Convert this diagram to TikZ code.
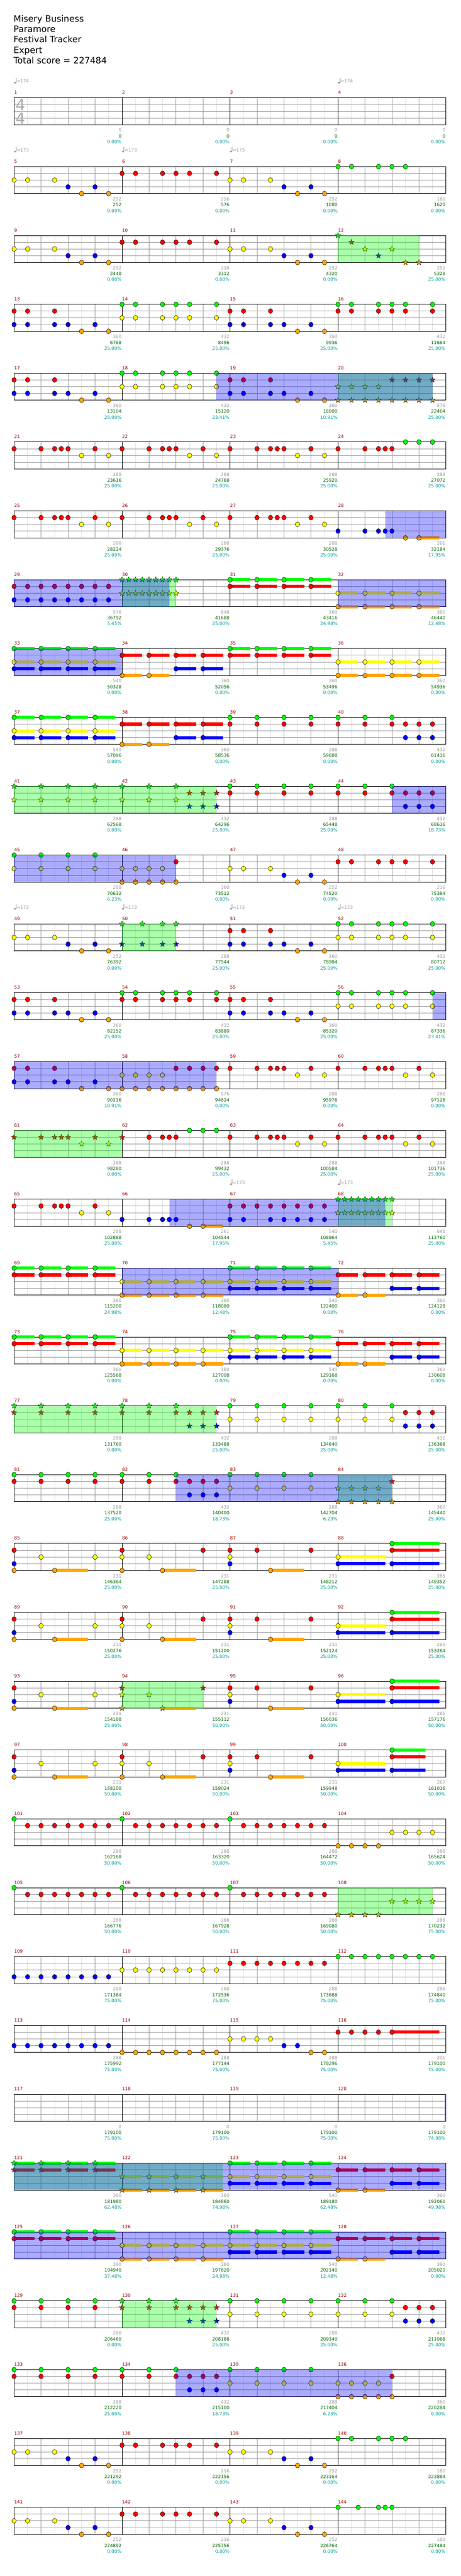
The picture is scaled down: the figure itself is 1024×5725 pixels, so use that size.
\documentclass[tikz,border=0pt]{standalone}
\usepackage{fontspec}
\setmainfont{DejaVu Sans}
\usetikzlibrary{shapes.geometric}
\definecolor{cg}{RGB}{0,255,0}
\definecolor{cr}{RGB}{255,0,0}
\definecolor{cy}{RGB}{255,255,0}
\definecolor{cb}{RGB}{0,0,255}
\definecolor{co}{RGB}{255,165,0}
\definecolor{gridd}{RGB}{153,153,153}
\definecolor{gridl}{RGB}{221,221,221}
\definecolor{mnum}{RGB}{153,0,0}
\definecolor{lgrey}{RGB}{153,153,153}
\definecolor{lgreen}{RGB}{0,102,0}
\definecolor{lteal}{RGB}{0,153,153}
\definecolor{tsig}{RGB}{170,170,170}
\def\lng{0}\def\lnr{1}\def\lny{2}\def\lnb{3}\def\lno{4}
\newcommand\mpos[1]{%
  \pgfmathtruncatemacro\mrow{floor((#1-1)/4)}%
  \pgfmathtruncatemacro\mcol{#1-1-4*\mrow}%
  \pgfmathsetmacro\mx{31.3+240*\mcol}%
  \pgfmathsetmacro\my{217.3+153*\mrow}}
\newcommand\gNt[3]{\mpos{#1}\edef\laneY{\csname ln#2\endcsname}%
  \foreach \p in {#3}{\draw[notestyle,fill=c#2] (\mx+30*\p,\my+15*\laneY) ellipse [x radius=5, y radius=5.4];}}
\newcommand\gSu[4]{\mpos{#1}\edef\laneY{\csname ln#2\endcsname}%
  \foreach \p in {#3}{\fill[c#2] (\mx+30*\p,\my+15*\laneY-3.5) rectangle (\mx+30*\p+30*#4,\my+15*\laneY+3.5);
  \draw[notestyle,fill=c#2] (\mx+30*\p,\my+15*\laneY) ellipse [x radius=5, y radius=5.4];}}
\newcommand\gSt[3]{\mpos{#1}\edef\laneY{\csname ln#2\endcsname}%
  \foreach \p in {#3}{\node[starstyle,fill=c#2] at (\mx+30*\p,\my+15*\laneY) {};}}
\newcommand\gSS[4]{\mpos{#1}\edef\laneY{\csname ln#2\endcsname}%
  \foreach \p in {#3}{\fill[c#2] (\mx+30*\p,\my+15*\laneY-3.5) rectangle (\mx+30*\p+30*#4,\my+15*\laneY+3.5);
  \node[starstyle,fill=c#2] at (\mx+30*\p,\my+15*\laneY) {};}}
\newcommand\ovr[4]{\mpos{#2}\fill[#1,fill opacity=0.33] (\mx+30*#3,\my) rectangle (\mx+30*#4,\my+60);}
\newcommand\tempo[2]{\mpos{#1}%
  \fill[lgrey] (\mx+2.2,\my-33.5) ellipse [x radius=2.4, y radius=1.8];
  \draw[lgrey,line width=0.8pt] (\mx+4.3,\my-33.5) -- (\mx+4.3,\my-44);
  \node[anchor=base west,inner sep=0pt,text=lgrey,font=\fontsize{10}{12}\selectfont] at (\mx+5.5,\my-33) {=#2};}
% patterns
\newcommand\patA[1]{\gNt{#1}{y}{0,1,3}\gNt{#1}{b}{4,6}\gNt{#1}{o}{5,7}}
\newcommand\patB[1]{\gNt{#1}{r}{0,1,3,4,5,7}}
\newcommand\patD[1]{\gNt{#1}{r}{0,1,3}\gNt{#1}{b}{0,1,3,4,6}\gNt{#1}{o}{5,7}}
\newcommand\patE[1]{\gNt{#1}{g}{0,1,3,4,5,7}\gNt{#1}{y}{0,1,3,4,5,7}}
\newcommand\patF[1]{\gNt{#1}{g}{0,1,3,4,5,7}\gNt{#1}{r}{0,1,3,4,5,7}}
\newcommand\patG[1]{\gNt{#1}{r}{0,2,3,3.5,4,6}\gNt{#1}{y}{5,7}}
\newcommand\patH[1]{\gNt{#1}{r}{0}\gNt{#1}{b}{0}\gNt{#1}{o}{0}\gNt{#1}{y}{2,6}\gSu{#1}{o}{3}{2.5}}
\newcommand\patI[1]{\gNt{#1}{r}{0,6}\gNt{#1}{y}{0,2}\gNt{#1}{o}{0}\gSu{#1}{o}{3}{2.5}}
\newcommand\patJ[1]{\gNt{#1}{r}{0,2,6}\gNt{#1}{y}{0}\gNt{#1}{b}{0}\gSu{#1}{o}{3}{2.5}}
\newcommand\patK[1]{\gSu{#1}{y}{0}{3.5}\gSu{#1}{b}{0}{3.5}\gSu{#1}{g}{4}{3.5}\gSu{#1}{r}{4}{3.5}\gSu{#1}{b}{4}{3.5}}
\newcommand\patL[1]{\gNt{#1}{g}{0,2,4,6}\gNt{#1}{r}{0,2,4,6}}
\newcommand\patM[1]{\gNt{#1}{g}{0,2,4}\gNt{#1}{r}{0,2,4,5,6,7}\gNt{#1}{b}{5,6,7}}
\newcommand\patO[1]{\gNt{#1}{g}{0,2,4,6}\gNt{#1}{y}{0,2,4,6}}
\newcommand\patP[1]{\gNt{#1}{g}{0,2,4}\gNt{#1}{y}{0,2,4}\gNt{#1}{r}{5,6,7}\gNt{#1}{b}{5,6,7}}
\newcommand\patQ[1]{\gNt{#1}{y}{0,1,2,3}\gNt{#1}{o}{0,1,2,3,4}\gNt{#1}{r}{4}}
\newcommand\patR[1]{\gNt{#1}{g}{0}\gNt{#1}{r}{1,...,7}}
\newcommand\patSGR[1]{\gSu{#1}{g}{0,2,4,6}{1.5}\gSu{#1}{r}{0,2,4,6}{1.5}}
\newcommand\patSYO[1]{\gSu{#1}{y}{0,2,4,6}{1.5}\gSu{#1}{o}{0,2,4,6}{1.5}}
\newcommand\patSGYB[1]{\gSu{#1}{g}{0,2,4,6}{1.5}\gSu{#1}{y}{0,2,4,6}{1.5}\gSu{#1}{b}{0,2,4,6}{1.5}}
\newcommand\patSR[1]{\gSu{#1}{r}{0,2,4,6}{1.5}\gSu{#1}{b}{4,6}{1.5}\gSu{#1}{o}{0,2}{1.5}}
\begin{document}
\begin{tikzpicture}[x=1pt,y=-1pt,
  notestyle/.style={draw=black,line width=0.6pt},
  starstyle/.style={star,star points=5,star point ratio=2.4,minimum size=13pt,inner sep=0pt,draw=black,line width=0.5pt},
  lab/.style={anchor=base east,inner sep=0pt,font=\fontsize{10}{12}\selectfont},
  mnumst/.style={anchor=base west,inner sep=0pt,text=mnum,font=\fontsize{10}{12}\selectfont},
  titl/.style={anchor=base west,inner sep=0pt,font=\fontsize{19.5}{23}\selectfont}]
\useasboundingbox (0,0) rectangle (1024,5725);
\fill[white] (0,0) rectangle (1024,5725);
% title
\node[titl] (t1) at (30,49) {Misery Business};
\node[titl] (t2) at (30,72) {Paramore};
\node[titl] (t3) at (30,95) {Festival Tracker};
\node[titl] (t4) at (30,118) {Expert};
\node[titl] (t5) at (30,141.5) {Total score = 227484};
% staves
\foreach \r in {0,...,35}{
  \pgfmathsetmacro\yy{217.3+153*\r}
  \foreach \k in {1,3,...,31} \draw[gridl,line width=0.8pt] (31.3+30*\k,\yy) -- ++(0,60);
  \foreach \k in {2,4,6,10,12,14,18,20,22,26,28,30} \draw[gridd,line width=0.8pt] (31.3+30*\k,\yy) -- ++(0,60);
  \foreach \j in {1,2,3} \draw[gridd,line width=1pt] (31.3,\yy+15*\j) -- (991.3,\yy+15*\j);
  \foreach \k in {8,16,24} \draw[black,line width=0.9pt] (31.3+30*\k,\yy) -- ++(0,60);
  \draw[black,line width=1pt] (31.3,\yy) rectangle (991.3,\yy+60);
}
% time signature
\node[anchor=base west,inner sep=0pt,text=tsig,font=\fontsize{34}{34}\selectfont] (ts1) at (34.5,245.3) {4};
\node[anchor=base west,inner sep=0pt,text=tsig,font=\fontsize{34}{34}\selectfont] (ts2) at (34.5,275.3) {4};
% tempo marks
\tempo{1}{174}\tempo{4}{174}
\tempo{5}{173}\tempo{6}{173}\tempo{7}{173}
\tempo{49}{173}\tempo{50}{173}\tempo{51}{173}\tempo{52}{173}
\tempo{67}{173}\tempo{68}{173}
% measure numbers
\foreach \m in {1,...,144}{\mpos{\m}\node[mnumst] at (\mx,\my-8) {\m};}
% notes
\patA{5}\patB{6}\patA{7}\gNt{8}{g}{0,1,3,4,5}
\patA{9}\patB{10}\patA{11}
\gSt{12}{g}{0}\gSt{12}{r}{1}\gSt{12}{y}{2,4}\gSt{12}{b}{3}\gSt{12}{o}{5,6}
\patD{13}\patE{14}\patD{15}\patF{16}
\patD{17}\patE{18}\patD{19}\gSt{20}{y}{0,1,2,3}\gSt{20}{r}{4,5,6,7}\gSt{20}{o}{0,...,7}
\patG{21}\patG{22}\patG{23}\gNt{24}{r}{0,2,3,3.5,4}\gNt{24}{g}{5,6,7}
\patG{25}\patG{26}\patG{27}\gNt{28}{b}{0,2,3,3.5,4}\gNt{28}{o}{5}\gSu{28}{o}{6}{1.5}
\gNt{29}{r}{0,...,7}\gNt{29}{b}{0,...,7}
\gSt{30}{g}{0,0.5,...,4}\gSt{30}{y}{0,0.5,...,4}
\patSGR{31}\patSYO{32}
\patSGYB{33}\patSR{34}\patSGR{35}\patSYO{36}
\patSGYB{37}\patSR{38}\patL{39}\patM{40}
\gSt{41}{g}{0,2,4,6}\gSt{41}{y}{0,2,4,6}
\gSt{42}{g}{0,2,4}\gSt{42}{y}{0,2,4}\gSt{42}{r}{5,6,7}\gSt{42}{b}{5,6,7}
\patL{43}\patM{44}
\patO{45}\patQ{46}\patA{47}\patB{48}
\patA{49}\gSt{50}{g}{0,1.5,3,4}\gSt{50}{b}{0,1.5,3,4}\patD{51}\patE{52}
\patD{53}\patF{54}\patD{55}\patE{56}
\patD{57}\gNt{58}{y}{0,1,2,3}\gNt{58}{o}{0,...,7}\gNt{58}{r}{4,5,6,7}\patG{59}\patG{60}
\gSt{61}{r}{0,2,3,3.5,4,6}\gSt{61}{y}{5,7}
\gSt{62}{r}{0}\gNt{62}{r}{2,3,3.5,4}\gNt{62}{g}{5,6,7}\patG{63}\patG{64}
\patG{65}\gNt{66}{b}{0,2,3,3.5,4}\gNt{66}{o}{5}\gSu{66}{o}{6}{1.5}
\gNt{67}{r}{0,...,7}\gNt{67}{b}{0,1,3,4,5,6,7}
\gSt{68}{g}{0,0.5,...,4}\gSt{68}{y}{0,0.5,...,4}
\patSGR{69}\patSYO{70}\patSGYB{71}\patSR{72}
\patSGR{73}\patSYO{74}\patSGYB{75}\patSR{76}
\gSt{77}{g}{0,2,4,6}\gSt{77}{r}{0,2,4,6}
\gSt{78}{g}{0,2,4}\gSt{78}{r}{0,2,4,5,6,7}\gSt{78}{b}{5,6,7}
\patO{79}\patP{80}
\patL{81}\patM{82}\patO{83}
\gSt{84}{y}{0,1,2,3}\gSt{84}{o}{0,1,2,3,4}\gSt{84}{r}{4}
\patH{85}\patI{86}\patJ{87}\patK{88}
\patH{89}\patI{90}\patJ{91}\patK{92}
\patH{93}\gSt{94}{r}{0,6}\gSt{94}{y}{0,2}\gSt{94}{o}{0}\gSS{94}{o}{3}{2.5}\patJ{95}\patK{96}
\patH{97}\patI{98}\patJ{99}\gSu{100}{y}{0}{3.5}\gSu{100}{b}{0}{3.5}\gSu{100}{g}{4}{2.5}\gSu{100}{r}{4}{2.5}\gSu{100}{b}{4}{2.5}
\patR{101}\patR{102}\patR{103}\gNt{104}{o}{0,1,2,3}\gNt{104}{y}{4,5,6,7}
\patR{105}\patR{106}\patR{107}\gSt{108}{o}{0,1,2,3}\gSt{108}{y}{4,5,6,7}
\gNt{109}{b}{0,...,7}\gNt{110}{y}{0,...,7}\gNt{111}{r}{0,...,7}\gNt{112}{g}{0,...,7}
\gNt{113}{b}{0,...,7}\gNt{114}{o}{0,...,7}\gNt{115}{y}{0,1,2,3}\gNt{115}{b}{4,5}\gNt{115}{o}{6,7}\gNt{116}{r}{0,1,2,3}\gSu{116}{r}{4}{3.5}
\gSS{121}{g}{0,2,4,6}{1.5}\gSS{121}{r}{0,2,4,6}{1.5}
\gSS{122}{y}{0,2,4,6}{1.5}\gSS{122}{o}{0,2,4,6}{1.5}
\patSGYB{123}\patSR{124}
\patSGR{125}\patSYO{126}\patSGYB{127}\patSR{128}
\patL{129}\gSt{130}{g}{0,2,4}\gSt{130}{r}{0,2,4,5,6,7}\gSt{130}{b}{5,6,7}\patO{131}\patP{132}
\patL{133}\patM{134}\patO{135}\patQ{136}
\patA{137}\patB{138}\patA{139}\gNt{140}{g}{0,1,3,4,5}
\patA{141}\patB{142}\patA{143}\gNt{144}{g}{0,1.5,3,3.5,4}
% star power phrases (green) and activations (blue)
\ovr{green}{12}{0}{6}
\ovr{green}{20}{0}{7}
\ovr{green}{30}{0}{4}
\ovr{green}{41}{0}{15}
\ovr{green}{50}{0}{4}
\ovr{green}{61}{0}{8}
\ovr{green}{68}{0}{4}
\ovr{green}{77}{0}{15}
\ovr{green}{84}{0}{4}
\ovr{green}{94}{0}{6}
\ovr{green}{108}{0}{7}
\ovr{green}{121}{0}{15.5}
\ovr{green}{130}{0}{7}
\ovr{blue}{18}{7}{23}
\ovr{blue}{28}{3.5}{8}
\ovr{blue}{29}{0}{11.5}
\ovr{blue}{32}{0}{8}
\ovr{blue}{33}{0}{8}
\ovr{blue}{44}{4}{8}
\ovr{blue}{45}{0}{12}
\ovr{blue}{56}{7}{8}
\ovr{blue}{57}{0}{15}
\ovr{blue}{66}{3.5}{19.5}
\ovr{blue}{70}{0}{16}
\ovr{blue}{82}{4}{20}
\ovr{blue}{120}{7.9}{8}
\ovr{blue}{121}{0}{32}
\ovr{blue}{125}{0}{32}
\ovr{blue}{134}{4}{20}
% measure labels
\foreach \m/\a/\b/\c in {1/0/0/0.00\%,2/0/0/0.00\%,3/0/0/0.00\%,4/0/0/0.00\%,
5/252/252/0.00\%,6/216/576/0.00\%,7/252/1080/0.00\%,8/180/1620/0.00\%,
9/252/2448/0.00\%,10/216/3312/0.00\%,11/252/4320/0.00\%,12/252/5328/25.00\%,
13/360/6768/25.00\%,14/432/8496/25.00\%,15/360/9936/25.00\%,16/432/11664/25.00\%,
17/360/13104/25.00\%,18/432/15120/23.41\%,19/360/18000/10.91\%,20/576/22464/25.00\%,
21/288/23616/25.00\%,22/288/24768/25.00\%,23/288/25920/25.00\%,24/288/27072/25.00\%,
25/288/28224/25.00\%,26/288/29376/25.00\%,27/288/30528/25.00\%,28/261/32184/17.95\%,
29/576/36792/5.45\%,30/648/41688/25.00\%,31/360/43416/24.98\%,32/360/46440/12.48\%,
33/540/50328/0.00\%,34/360/52056/0.00\%,35/360/53496/0.00\%,36/360/54936/0.00\%,
37/540/57096/0.00\%,38/360/58536/0.00\%,39/288/59688/0.00\%,40/432/61416/0.00\%,
41/288/62568/0.00\%,42/432/64296/25.00\%,43/288/65448/25.00\%,44/432/68616/18.73\%,
45/288/70632/6.23\%,46/360/73512/0.00\%,47/252/74520/0.00\%,48/216/75384/0.00\%,
49/252/76392/0.00\%,50/288/77544/25.00\%,51/360/78984/25.00\%,52/432/80712/25.00\%,
53/360/82152/25.00\%,54/432/83880/25.00\%,55/360/85320/25.00\%,56/432/87336/23.41\%,
57/360/90216/10.91\%,58/576/94824/0.00\%,59/288/95976/0.00\%,60/288/97128/0.00\%,
61/288/98280/0.00\%,62/288/99432/25.00\%,63/288/100584/25.00\%,64/288/101736/25.00\%,
65/288/102888/25.00\%,66/261/104544/17.95\%,67/540/108864/5.45\%,68/648/113760/25.00\%,
69/360/115200/24.98\%,70/360/118080/12.48\%,71/540/122400/0.00\%,72/360/124128/0.00\%,
73/360/125568/0.00\%,74/360/127008/0.00\%,75/540/129168/0.00\%,76/360/130608/0.00\%,
77/288/131760/0.00\%,78/432/133488/25.00\%,79/288/134640/25.00\%,80/432/136368/25.00\%,
81/288/137520/25.00\%,82/432/140400/18.73\%,83/288/142704/6.23\%,84/360/145440/25.00\%,
85/231/146364/25.00\%,86/231/147288/25.00\%,87/231/148212/25.00\%,88/285/149352/25.00\%,
89/231/150276/25.00\%,90/231/151200/25.00\%,91/231/152124/25.00\%,92/285/153264/25.00\%,
93/231/154188/25.00\%,94/231/155112/50.00\%,95/231/156036/50.00\%,96/285/157176/50.00\%,
97/231/158100/50.00\%,98/231/159024/50.00\%,99/231/159948/50.00\%,100/267/161016/50.00\%,
101/288/162168/50.00\%,102/288/163320/50.00\%,103/288/164472/50.00\%,104/288/165624/50.00\%,
105/288/166776/50.00\%,106/288/167928/50.00\%,107/288/169080/50.00\%,108/288/170232/75.00\%,
109/288/171384/75.00\%,110/288/172536/75.00\%,111/288/173688/75.00\%,112/288/174840/75.00\%,
113/288/175992/75.00\%,114/288/177144/75.00\%,115/288/178296/75.00\%,116/201/179100/75.00\%,
117/0/179100/75.00\%,118/0/179100/75.00\%,119/0/179100/75.00\%,120/0/179100/74.98\%,
121/360/181980/62.48\%,122/360/184860/74.98\%,123/540/189180/62.48\%,124/360/192060/49.98\%,
125/360/194940/37.48\%,126/360/197820/24.98\%,127/540/202140/12.48\%,128/360/205020/0.00\%,
129/288/206460/0.00\%,130/432/208188/25.00\%,131/288/209340/25.00\%,132/432/211068/25.00\%,
133/288/212220/25.00\%,134/432/215100/18.73\%,135/288/217404/6.23\%,136/360/220284/0.00\%,
137/252/221292/0.00\%,138/216/222156/0.00\%,139/252/223164/0.00\%,140/180/223884/0.00\%,
141/252/224892/0.00\%,142/216/225756/0.00\%,143/252/226764/0.00\%,144/180/227484/0.00\%}{
  \mpos{\m}
  \node[lab,text=lgrey] at (\mx+239,\my+75.7) {\a};
  \node[lab,text=lgreen] at (\mx+239,\my+88.7) {\b};
  \node[lab,text=lteal] at (\mx+239,\my+101.7) {\c};
}
\end{tikzpicture}
\end{document}
